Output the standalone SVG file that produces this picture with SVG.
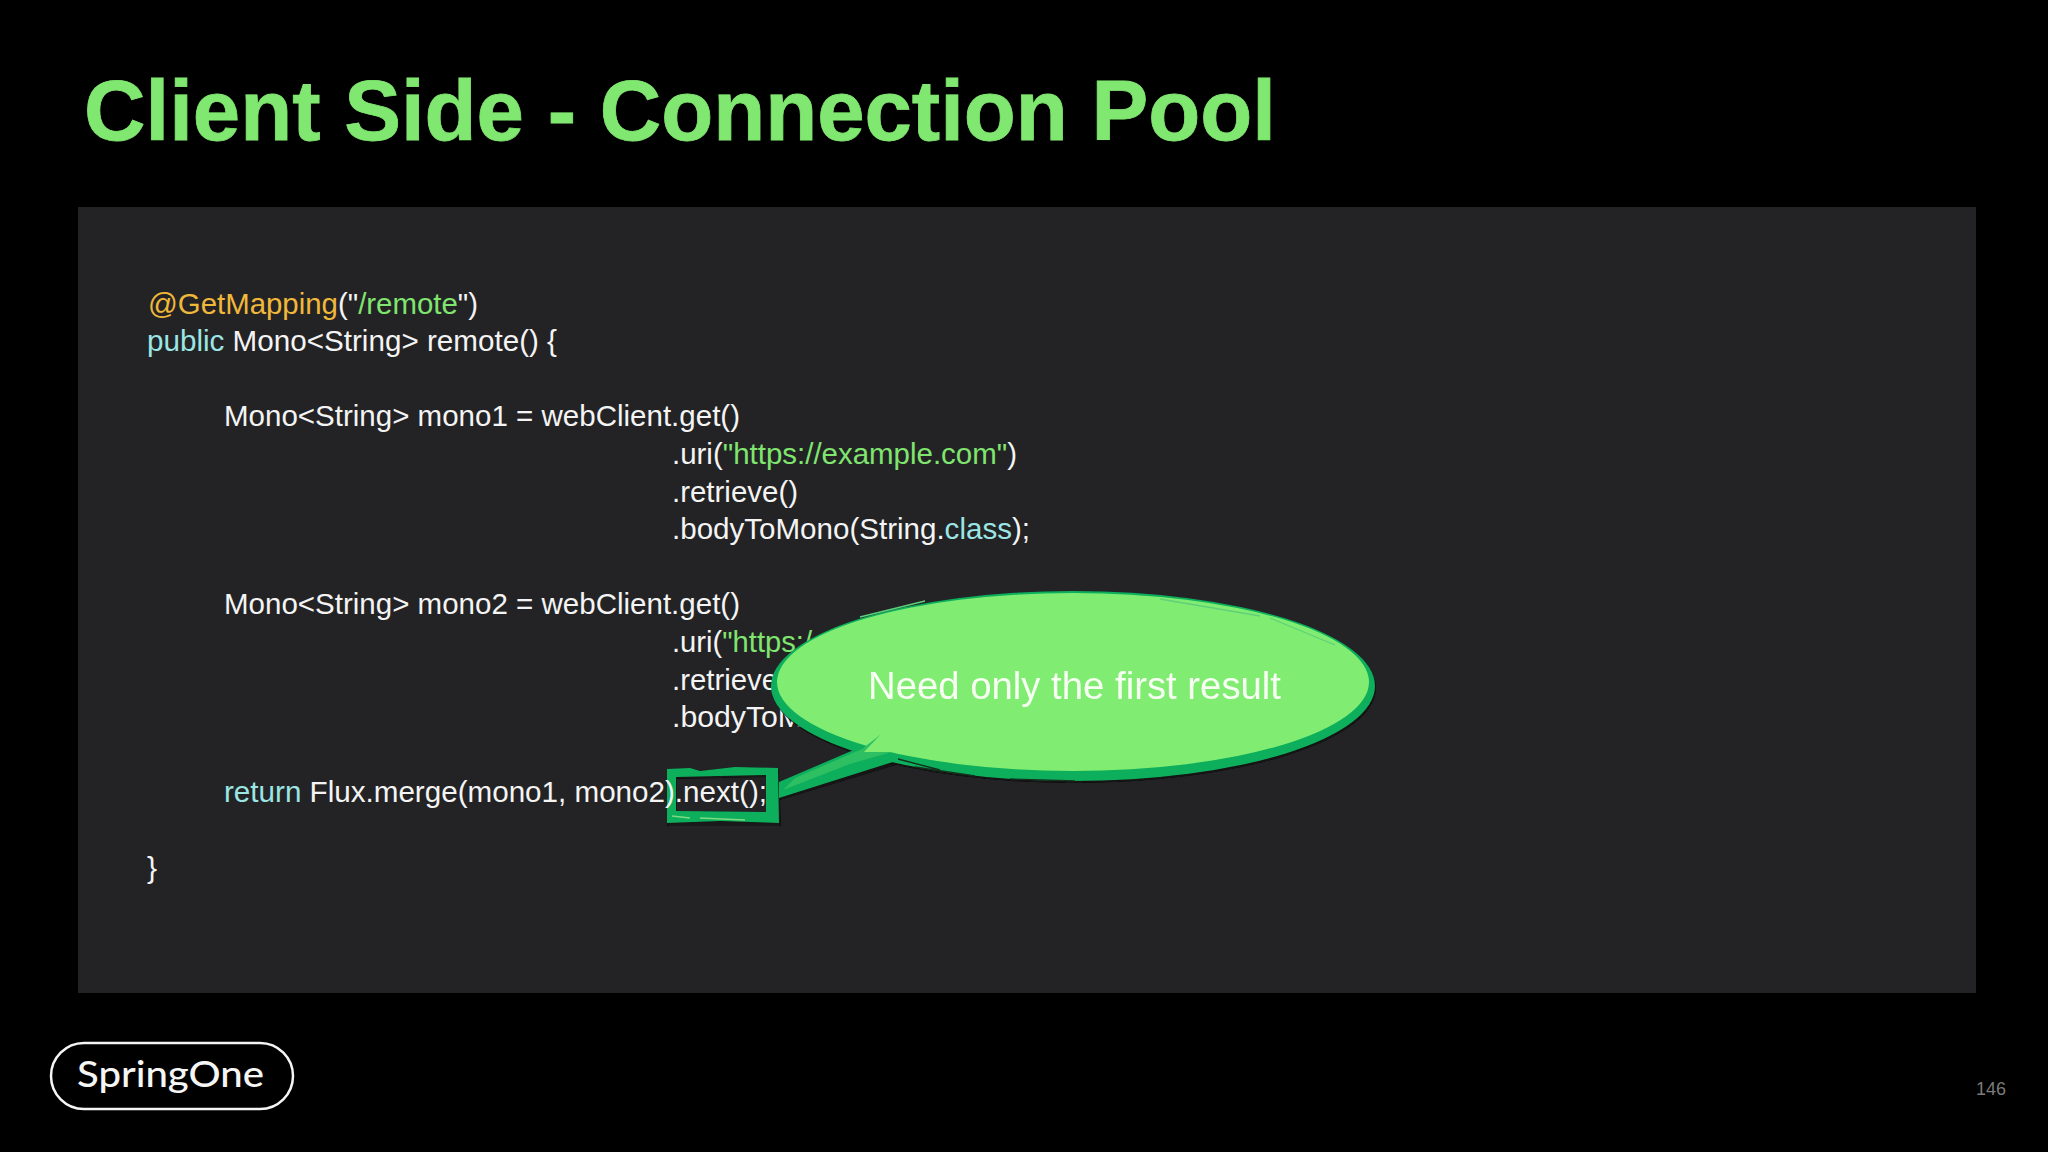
<svg xmlns="http://www.w3.org/2000/svg" width="2048" height="1152" viewBox="0 0 2048 1152">
<style>
text{font-family:"Liberation Sans",Arial,sans-serif}
.c{font-size:30px;fill:#f4f4f4}
.k{fill:#9be6e4}.s{fill:#7fe56f}.a{fill:#f0b83a}
.streak{fill:none;stroke-width:1.3}
</style>
<defs><filter id="soft" x="-5%" y="-5%" width="110%" height="110%"><feGaussianBlur stdDeviation="0.45"/></filter></defs>
<rect width="2048" height="1152" fill="#000"/>
<text id="title" x="84" y="140" font-size="86" font-weight="700" fill="#80e870" stroke="#80e870" stroke-width="0.8" textLength="1192" lengthAdjust="spacingAndGlyphs">Client Side - Connection Pool</text>
<rect id="panel" x="78" y="207" width="1898" height="786" fill="#232325"/>
<g id="highlight" filter="url(#soft)">
<path fill-rule="evenodd" d="M668 771L779 770L781 826L667 826ZM677 779L677 814L767 815L767 777Z" fill="#0b0b0b" opacity="0.6"/>
<path fill-rule="evenodd" d="M667 769L690 768L700 771L735 767L778 768L779 823L720 821L667 823ZM676 777L676 811L766 812L766 775Z" fill="#0aae5b"/>
<path d="M700 818L745 820M672 816L690 818" class="streak" stroke="#7fdc80"/>
</g>
<g id="code">
<text class="c" x="148" y="314" textLength="330" lengthAdjust="spacingAndGlyphs"><tspan class="a">@GetMapping</tspan>("<tspan class="s">/remote</tspan>")</text>
<text class="c" x="147" y="351" textLength="410" lengthAdjust="spacingAndGlyphs"><tspan class="k">public</tspan> Mono&lt;String&gt; remote() {</text>
<text class="c" x="224" y="426" textLength="516" lengthAdjust="spacingAndGlyphs">Mono&lt;String&gt; mono1 = webClient.get()</text>
<text class="c" x="672" y="464" textLength="345" lengthAdjust="spacingAndGlyphs">.uri(<tspan class="s">"https://example.com"</tspan>)</text>
<text class="c" x="672" y="502" textLength="126" lengthAdjust="spacingAndGlyphs">.retrieve()</text>
<text class="c" x="672" y="539" textLength="358" lengthAdjust="spacingAndGlyphs">.bodyToMono(String.<tspan class="k">class</tspan>);</text>
<text class="c" x="224" y="614" textLength="516" lengthAdjust="spacingAndGlyphs">Mono&lt;String&gt; mono2 = webClient.get()</text>
<text class="c" x="672" y="652" textLength="140" lengthAdjust="spacingAndGlyphs">.uri(<tspan class="s">"https:/</tspan></text>
<text class="c" x="672" y="690" textLength="106" lengthAdjust="spacingAndGlyphs">.retrieve</text>
<text class="c" x="672" y="727" textLength="131" lengthAdjust="spacingAndGlyphs">.bodyToM</text>
<text class="c" x="224" y="802" textLength="543" lengthAdjust="spacingAndGlyphs"><tspan class="k">return</tspan> Flux.merge(mono1, mono2).next();</text>
<text class="c" x="147" y="878">}</text>
</g>
<g id="callout" filter="url(#soft)">
<ellipse cx="1074" cy="688" rx="302" ry="95" fill="#0b0b0b" opacity="0.75"/>
<path d="M780 800L896 765L852 752L780 785Z" fill="#0b0b0b" opacity="0.7"/>
<path d="M779 798L896 761L856 749L779 782Z" fill="#0aae5b"/>
<ellipse cx="1073" cy="686" rx="302" ry="95" fill="#0aae5b"/>
<ellipse cx="1073" cy="682" rx="296" ry="89" fill="#81ec72"/>
<path d="M862 749L795 778L783 790L850 764L892 752L880 735Z" fill="#2fbf62"/>
<path d="M864 752L880 735L915 745L893 752Z" fill="#81ec72"/>
<path d="M898 759L940 770M915 767L975 776M1010 779L1075 781" class="streak" stroke="#14301f"/>
<path d="M1160 599L1260 616M1270 618L1335 645M860 617L925 601" class="streak" stroke="#5fd07a"/>
<text x="868" y="699" font-size="38" fill="#f7fff3" textLength="413" lengthAdjust="spacingAndGlyphs">Need only the first result</text>
</g>
<g id="logo">
<rect x="51" y="1043" width="242" height="66" rx="33" fill="none" stroke="#f5f5f5" stroke-width="2.5"/>
<text x="77" y="1087" font-size="37" font-weight="500" fill="#f5f5f5" style="font-family:Lato,Inter,sans-serif" textLength="187" lengthAdjust="spacingAndGlyphs">SpringOne</text>
</g>
<text id="page" x="1976" y="1095" font-size="18" fill="#7b7b7b">146</text>
</svg>
